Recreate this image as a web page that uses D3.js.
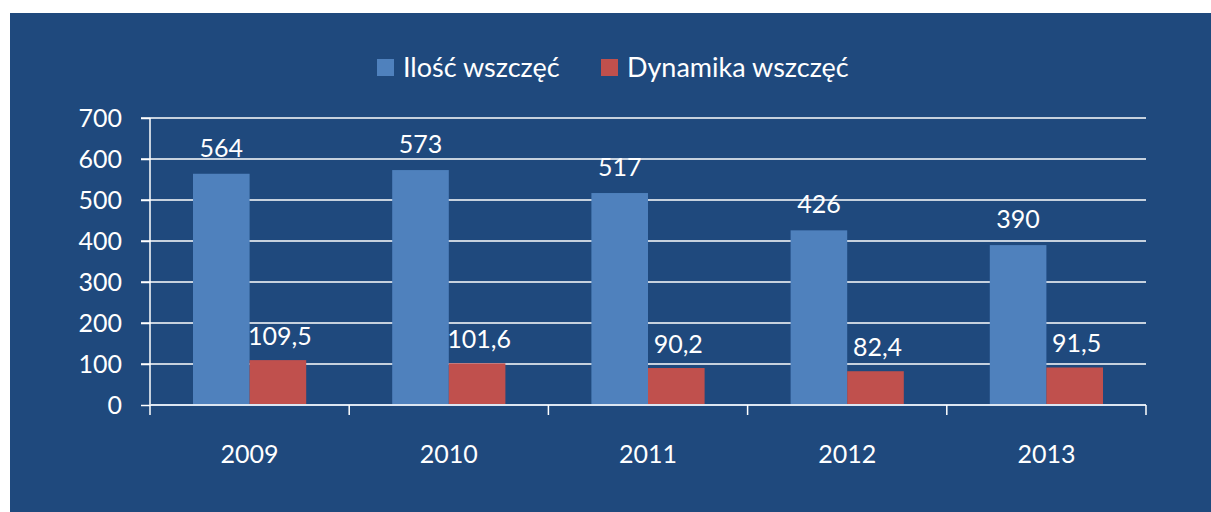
<!DOCTYPE html>
<html>
<head>
<meta charset="utf-8">
<script src="https://cdn.jsdelivr.net/npm/d3@7"></script>
<style>
  body { margin: 0; background: #fff; }
  text { font-family: Lato, "Open Sans", sans-serif; fill: #fff; }
</style>
</head>
<body>
<svg id="chart" width="1211" height="512"></svg>
<script>
// dane
var years = ["2009", "2010", "2011", "2012", "2013"];
var ilosc = [564, 573, 517, 426, 390];
var dynamika = [109.5, 101.6, 90.2, 82.4, 91.5];
var seriesNames = ["Ilość wszczęć", "Dynamika wszczęć"];
var yTicks = [0, 100, 200, 300, 400, 500, 600, 700];

var colors = ["#4f81bd", "#c0504d"];

var svg = d3.select("#chart"),
    margin = { top: 118, left: 150, right: 65, bottom: 107 },
    width = 1211 - margin.left - margin.right,
    height = 512 - margin.top - margin.bottom;

svg.append("rect")
    .attr("x", 10).attr("y", 13)
    .attr("width", 1201).attr("height", 499)
    .attr("fill", "#1f497d");

var g = svg.append("g")
    .attr("transform", "translate(" + margin.left + "," + margin.top + ")");

var x = d3.scaleBand().domain(years).range([0, width]).paddingInner(0).paddingOuter(0);
var x1 = d3.scaleBand().domain([0, 1]).range([43, x.bandwidth() - 43]);
var y = d3.scaleLinear().domain([0, 700]).range([height, 0]);

// linie siatki
g.selectAll(".grid")
    .data(yTicks.slice(1))
    .enter().append("line")
    .attr("x1", -9).attr("x2", width)
    .attr("y1", function (d) { return y(d); })
    .attr("y2", function (d) { return y(d); })
    .attr("stroke", "#ffffff").attr("stroke-width", 1.5);

// os y
var yAxis = g.append("g")
    .call(d3.axisLeft(y).tickValues(yTicks).tickSize(9).tickPadding(19));
yAxis.select(".domain").attr("stroke", "#fff").attr("stroke-width", 1.5)
    .attr("d", "M0," + height + "V0");
yAxis.selectAll(".tick line").attr("stroke", "#fff").attr("stroke-width", 1.5);
yAxis.selectAll("text").attr("fill", "#fff").style("font-size", "25px");

// slupki
var data = years.map(function (yr, i) {
    return { year: yr, values: [ilosc[i], dynamika[i]] };
});

var groups = g.selectAll(".grp")
    .data(data)
    .enter().append("g")
    .attr("transform", function (d) { return "translate(" + x(d.year) + ",0)"; });

groups.selectAll("rect")
    .data(function (d) { return d.values; })
    .enter().append("rect")
    .attr("x", function (d, i) { return x1(i); })
    .attr("width", x1.bandwidth())
    .attr("y", function (d) { return y(d); })
    .attr("height", function (d) { return height - y(d); })
    .attr("fill", function (d, i) { return colors[i]; });

var fmt = function (v) { return Number.isInteger(v) ? String(v) : String(v).replace(".", ","); };

groups.selectAll(".lbl")
    .data(function (d) { return d.values; })
    .enter().append("text")
    .attr("x", function (d, i) { return x1(i) + x1.bandwidth() / 2 + (i === 1 ? 2 : 0); })
    .attr("y", function (d, i) { return y(d) - (i === 0 ? 17 : 15); })
    .attr("text-anchor", "middle")
    .style("font-size", "25px")
    .text(fmt);

// os x
var xAxis = g.append("g")
    .attr("transform", "translate(0," + height + ")")
    .call(d3.axisBottom(x).tickSize(0).tickPadding(40));
xAxis.select(".domain").attr("stroke", "#dce6f2").attr("stroke-width", 2)
    .attr("d", "M0,0H" + width);
xAxis.selectAll("text").attr("fill", "#fff").style("font-size", "25px");

g.selectAll(".xtick")
    .data(d3.range(years.length + 1))
    .enter().append("line")
    .attr("x1", function (d) { return d * x.bandwidth(); })
    .attr("x2", function (d) { return d * x.bandwidth(); })
    .attr("y1", height).attr("y2", height + 10)
    .attr("stroke", "#fff").attr("stroke-width", 1.5);

// legenda
var legendX = [377, 601];
var legend = svg.selectAll(".leg")
    .data(seriesNames)
    .enter().append("g")
    .attr("transform", function (d, i) { return "translate(" + legendX[i] + ",59)"; });
legend.append("rect")
    .attr("width", 17).attr("height", 17)
    .attr("fill", function (d, i) { return colors[i]; });
legend.append("text")
    .attr("x", 26).attr("y", 18)
    .style("font-size", "27px")
    .text(function (d) { return d; });
</script>
</body>
</html>
